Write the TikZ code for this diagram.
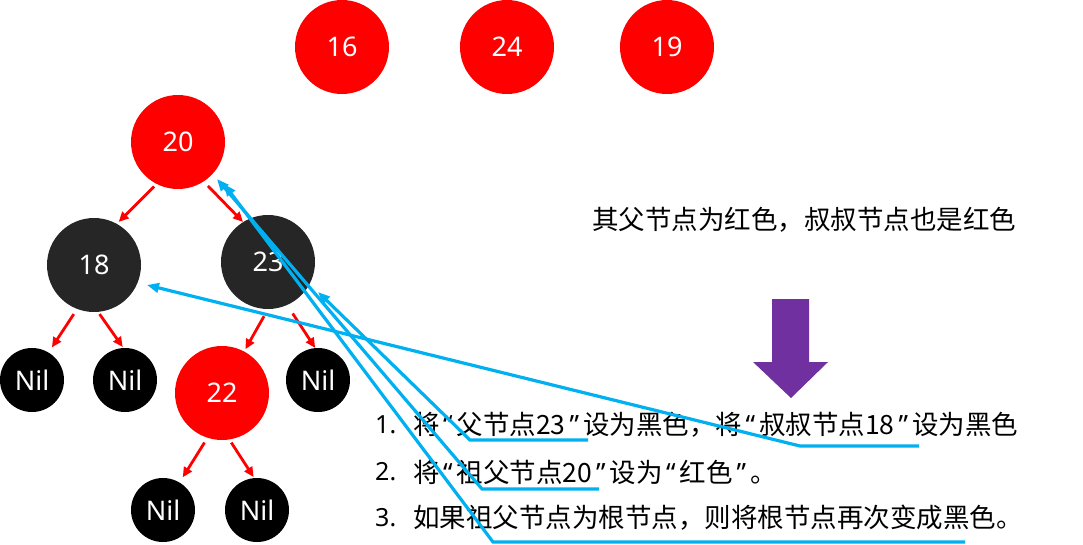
\documentclass[tikz,border=0pt]{standalone}
\usepackage{fontspec}
\setmainfont{Noto Sans}
\newfontfamily\cjk{Noto Sans CJK SC}
\usetikzlibrary{arrows.meta}
\definecolor{rbred}{HTML}{FF0000}
\definecolor{rbdark}{HTML}{262626}
\definecolor{callblue}{HTML}{00B0F0}
\definecolor{arrowpurple}{HTML}{7030A0}
\newcommand\myoq{\kern3.5pt{\rmfamily“}\kern4pt}
\newcommand\mycq{\kern4pt{\rmfamily”}\kern4pt}
\begin{document}
\begin{tikzpicture}[x=1pt,y=-1pt,
  rednode/.style={circle,fill=rbred,minimum size=94pt,inner sep=0pt,text=white,font=\fontsize{27}{30}\selectfont},
  darknode/.style={rednode,fill=rbdark},
  nilnode/.style={circle,fill=black,minimum size=64pt,inner sep=0pt,text=white,font=\fontsize{27}{30}\selectfont},
  link/.style={draw=rbred,line width=2.8pt,-{Triangle[length=10pt,width=9pt]}},
  callout/.style={draw=callblue,line width=3.2pt,line join=miter,-{Triangle[length=12pt,width=9.5pt]}},
  cjktext/.style={anchor=west,inner sep=0pt,font=\cjk\fontsize{26.5}{28}\selectfont},
  numtext/.style={anchor=west,inner sep=0pt,font=\fontsize{25}{28}\selectfont}
]
\useasboundingbox (0,0) rectangle (1083,544);

% top nodes
\node[rednode] (n16) at (342,47) {16};
\node[rednode] (n24) at (507,47) {24};
\node[rednode] (n19) at (667,47) {19};

% tree
\node[rednode]  (n20) at (178,142) {20};
\node[darknode] (n18) at (94,265) {18};
\node[darknode] (n23) at (268,262) {23};
\node[nilnode]  (nilA) at (32,380) {Nil};
\node[nilnode]  (nilB) at (125,380) {Nil};
\node[rednode]  (n22) at (222,393) {22};
\node[nilnode]  (nilC) at (318,380) {Nil};
\node[nilnode]  (nilD) at (163,510) {Nil};
\node[nilnode]  (nilE) at (257,510) {Nil};

\draw[link,shorten <=3.5pt,shorten >=2.5pt] (n20.-117) -- (n18.61);
\draw[link,shorten <=6pt,shorten >=0pt] (n20.-57) -- (n23.122);
\draw[link,shorten <=6pt,shorten >=6pt] (n18.-111) -- (nilA.59);
\draw[link,shorten <=2.5pt,shorten >=1pt] (n18.-85) -- (nilB.93);
\draw[link,shorten <=8pt,shorten >=2.5pt] (n23.-90) -- (n22.62);
\draw[link,shorten <=10pt,shorten >=0pt] (n23.-66) -- (nilC.95);
\draw[link,shorten <=5.5pt,shorten >=6pt] (n22.-108) -- (nilD.59);
\draw[link,shorten <=3.5pt,shorten >=1pt] (n22.-81) -- (nilE.95);

% texts
\node[cjktext] (cond) at (592,220) {其父节点为红色，叔叔节点也是红色};
\node[numtext] (num1) at (375,425) {1.};
\node[cjktext] (line1) at (413,425) {将\myoq 父节点23\mycq 设为黑色，将\myoq 叔叔节点18\mycq 设为黑色};
\node[numtext] (num2) at (375,472) {2.};
\node[cjktext] (line2) at (413,472) {将\myoq 祖父节点20\mycq 设为\myoq 红色\mycq 。};
\node[numtext] (num3) at (375,518) {3.};
\node[cjktext] (line3) at (413,518) {如果祖父节点为根节点，则将根节点再次变成黑色。};

% purple down arrow
\fill[arrowpurple] (772,299) -- (809,299) -- (809,362) -- (828,362) -- (791,398) -- (753,362) -- (772,362) -- cycle;

% callouts
\coordinate (u1a) at (470,440);
\coordinate (u1b) at (588,440);
\coordinate (t23) at (318,292);
\coordinate (u2a) at (482,489);
\coordinate (u2b) at (599,489);
\coordinate (t20a) at (217,179);
\coordinate (u3a) at (493,542);
\coordinate (u3b) at (965,542);
\coordinate (t20b) at (224,184);
\coordinate (u4a) at (800,446);
\coordinate (u4b) at (919,446);
\coordinate (t18) at (147,285);
\draw[callout] (u1b) -- (u1a) -- (t23);
\draw[callout] (u2b) -- (u2a) -- (t20a);
\draw[callout] (u3b) -- (u3a) -- (t20b);
\draw[callout] (u4b) -- (u4a) -- (t18);
\end{tikzpicture}
\end{document}
